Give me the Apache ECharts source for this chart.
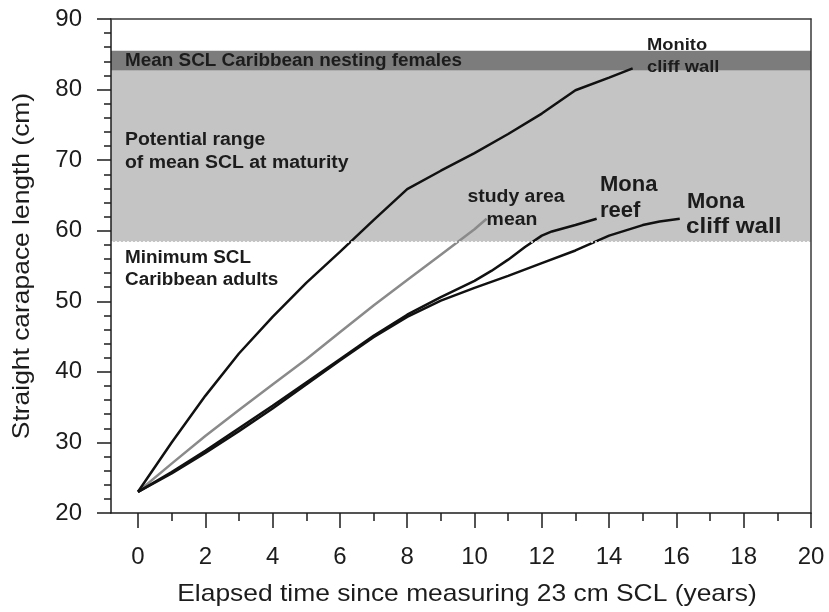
<!DOCTYPE html>
<html><head><meta charset="utf-8">
<script src="https://cdn.jsdelivr.net/npm/echarts@6/dist/echarts.min.js"></script>
<style>html,body{margin:0;padding:0;background:#fff}#c{width:829px;height:612px}</style>
</head><body><div id="c"></div>
<script>
// Data (years since 23 cm SCL, SCL in cm)
const monitoCliff = [[0,23],[1,30.0],[2,36.6],[3,42.6],[4,47.8],[5,52.6],[6,57.0],[7,61.5],[8,65.9],[9,68.5],[10,71.0],[11,73.7],[12,76.6],[13,79.9],[14,81.7],[14.7,83.0]];
const studyAreaMean = [[0,23],[1,27.0],[2,30.9],[3,34.6],[4,38.2],[5,41.8],[6,45.6],[7,49.4],[8,53.0],[9,56.6],[10,60.2],[10.36,61.7]];
const monaReef = [[0,23],[1,25.8],[2,28.8],[3,32.0],[4,35.2],[5,38.5],[6,41.8],[7,45.1],[8,48.1],[9,50.6],[10,52.9],[10.5,54.3],[11,55.9],[11.5,57.7],[12,59.3],[12.3,59.9],[13,60.8],[13.63,61.7]];
const monaCliff = [[0,23],[1,25.6],[2,28.5],[3,31.6],[4,34.8],[5,38.2],[6,41.6],[7,44.9],[8,47.8],[9,50.1],[10,51.9],[11,53.6],[12,55.4],[13,57.2],[14,59.3],[15,60.8],[15.5,61.3],[16.1,61.7]];
const minAdultSCL = 58.4;
const maturityTop = 82.7;
const nestingTop = 85.5;
const xRange = [0, 20];
const yRange = [20, 90];

const FONT = '"Liberation Sans", Arial, Helvetica, sans-serif';
const INK = '#1c1c1c';
const chart = echarts.init(document.getElementById('c'));
const gTop = 19, gBottom = 99, gRight = 18, gLeft = 111, gLeft1 = 138;
const SX = 1.08;

function label(text, x, y, size, align, sx) {
  return { type: 'text', x: x, y: y, z: 50, scaleX: sx || SX,
    style: { text: text, font: 'bold ' + size + 'px ' + FONT, fill: INK,
      textAlign: align || 'left', textVerticalAlign: 'middle' } };
}

chart.setOption({
  animation: false,
  backgroundColor: '#fff',
  grid: [
    { left: gLeft, right: gRight, top: gTop, bottom: gBottom, show: false },
    { left: gLeft1, right: gRight, top: gTop, bottom: gBottom, show: false }
  ],
  xAxis: [
    { gridIndex: 0, type: 'value', min: -0.8, max: 20, position: 'bottom', z: 5,
      axisLine: { show: true, onZero: false, lineStyle: { color: INK, width: 1.5 } },
      axisTick: { show: false }, axisLabel: { show: false }, splitLine: { show: false } },
    { gridIndex: 0, type: 'value', min: -0.8, max: 20, position: 'top', z: 5,
      axisLine: { show: true, onZero: false, lineStyle: { color: '#3a3a3a', width: 1.5 } },
      axisTick: { show: false }, axisLabel: { show: false }, splitLine: { show: false } },
    { gridIndex: 1, type: 'value', min: xRange[0], max: xRange[1], interval: 2, position: 'bottom', z: 5,
      axisLine: { show: false, onZero: false },
      axisTick: { show: true, length: 15, lineStyle: { color: INK, width: 1.5 } },
      minorTick: { show: true, splitNumber: 2, length: 8, lineStyle: { color: INK, width: 1.5 } },
      axisLabel: { color: INK, fontSize: 24, fontFamily: FONT, margin: 32 },
      splitLine: { show: false } }
  ],
  yAxis: [
    { gridIndex: 0, type: 'value', min: yRange[0], max: yRange[1], interval: 10, position: 'left', z: 5,
      axisLine: { show: true, onZero: false, lineStyle: { color: INK, width: 1.5 } },
      axisTick: { show: true, length: 14, lineStyle: { color: INK, width: 1.5 } },
      minorTick: { show: true, splitNumber: 5, length: 7, lineStyle: { color: INK, width: 1.5 } },
      axisLabel: { color: INK, fontSize: 24, fontFamily: FONT, margin: 29 },
      splitLine: { show: false } },
    { gridIndex: 0, type: 'value', min: yRange[0], max: yRange[1], position: 'right', z: 5,
      axisLine: { show: true, onZero: false, lineStyle: { color: '#3a3a3a', width: 1.5 } },
      axisTick: { show: false }, axisLabel: { show: false }, splitLine: { show: false } },
    { gridIndex: 1, type: 'value', min: yRange[0], max: yRange[1], show: false }
  ],
  series: [
    { type: 'line', xAxisIndex: 0, yAxisIndex: 0, z: 1, data: [], symbol: 'none', silent: true,
      markArea: { silent: true, z: 1, data: [
        [{ yAxis: minAdultSCL, itemStyle: { color: '#c4c4c4' } }, { yAxis: maturityTop }],
        [{ yAxis: maturityTop, itemStyle: { color: '#7c7c7c' } }, { yAxis: nestingTop }]
      ] },
      markLine: { silent: true, symbol: 'none', label: { show: false },
        lineStyle: { color: '#ffffff', type: [2, 2], width: 1.5 },
        data: [{ yAxis: minAdultSCL }] } },
    { name: 'Monito cliff wall', type: 'line', xAxisIndex: 2, yAxisIndex: 2, z: 4, data: monitoCliff,
      symbol: 'none', lineStyle: { color: '#111', width: 2.5 } },
    { name: 'study area mean', type: 'line', xAxisIndex: 2, yAxisIndex: 2, z: 3, data: studyAreaMean,
      symbol: 'none', lineStyle: { color: '#8a8a8a', width: 2.5 } },
    { name: 'Mona reef', type: 'line', xAxisIndex: 2, yAxisIndex: 2, z: 4, data: monaReef,
      symbol: 'none', lineStyle: { color: '#111', width: 2.5 } },
    { name: 'Mona cliff wall', type: 'line', xAxisIndex: 2, yAxisIndex: 2, z: 4, data: monaCliff,
      symbol: 'none', lineStyle: { color: '#111', width: 2.5 } }
  ],
  graphic: [
    { type: 'text', x: 22, y: 266, rotation: Math.PI / 2, z: 50, scaleX: 1.1,
      style: { text: 'Straight carapace length (cm)', font: '24px ' + FONT, fill: INK,
        textAlign: 'center', textVerticalAlign: 'middle' } },
    { type: 'text', x: 467, y: 594, z: 50, scaleX: 1.1,
      style: { text: 'Elapsed time since measuring 23 cm SCL (years)', font: '24px ' + FONT, fill: INK,
        textAlign: 'center', textVerticalAlign: 'middle' } },
    label('Mean SCL Caribbean nesting females', 125, 61, 17.5),
    label('Potential range', 125, 140, 18),
    label('of mean SCL at maturity', 125, 163, 18),
    label('Minimum SCL', 125, 258, 17.5),
    label('Caribbean adults', 125, 280, 17.5),
    label('Monito', 647, 45, 17),
    label('cliff wall', 647, 67, 17),
    label('study area', 516, 197, 18, 'center'),
    label('mean', 512, 220, 18, 'center'),
    label('Mona', 600, 185, 22, 'left', 1.0),
    label('reef', 600, 211, 22, 'left', 1.0),
    label('Mona', 687, 202, 22, 'left', 1.0),
    label('cliff wall', 686, 227, 22, 'left', 1.1)
  ]
});
</script>
</body></html>
